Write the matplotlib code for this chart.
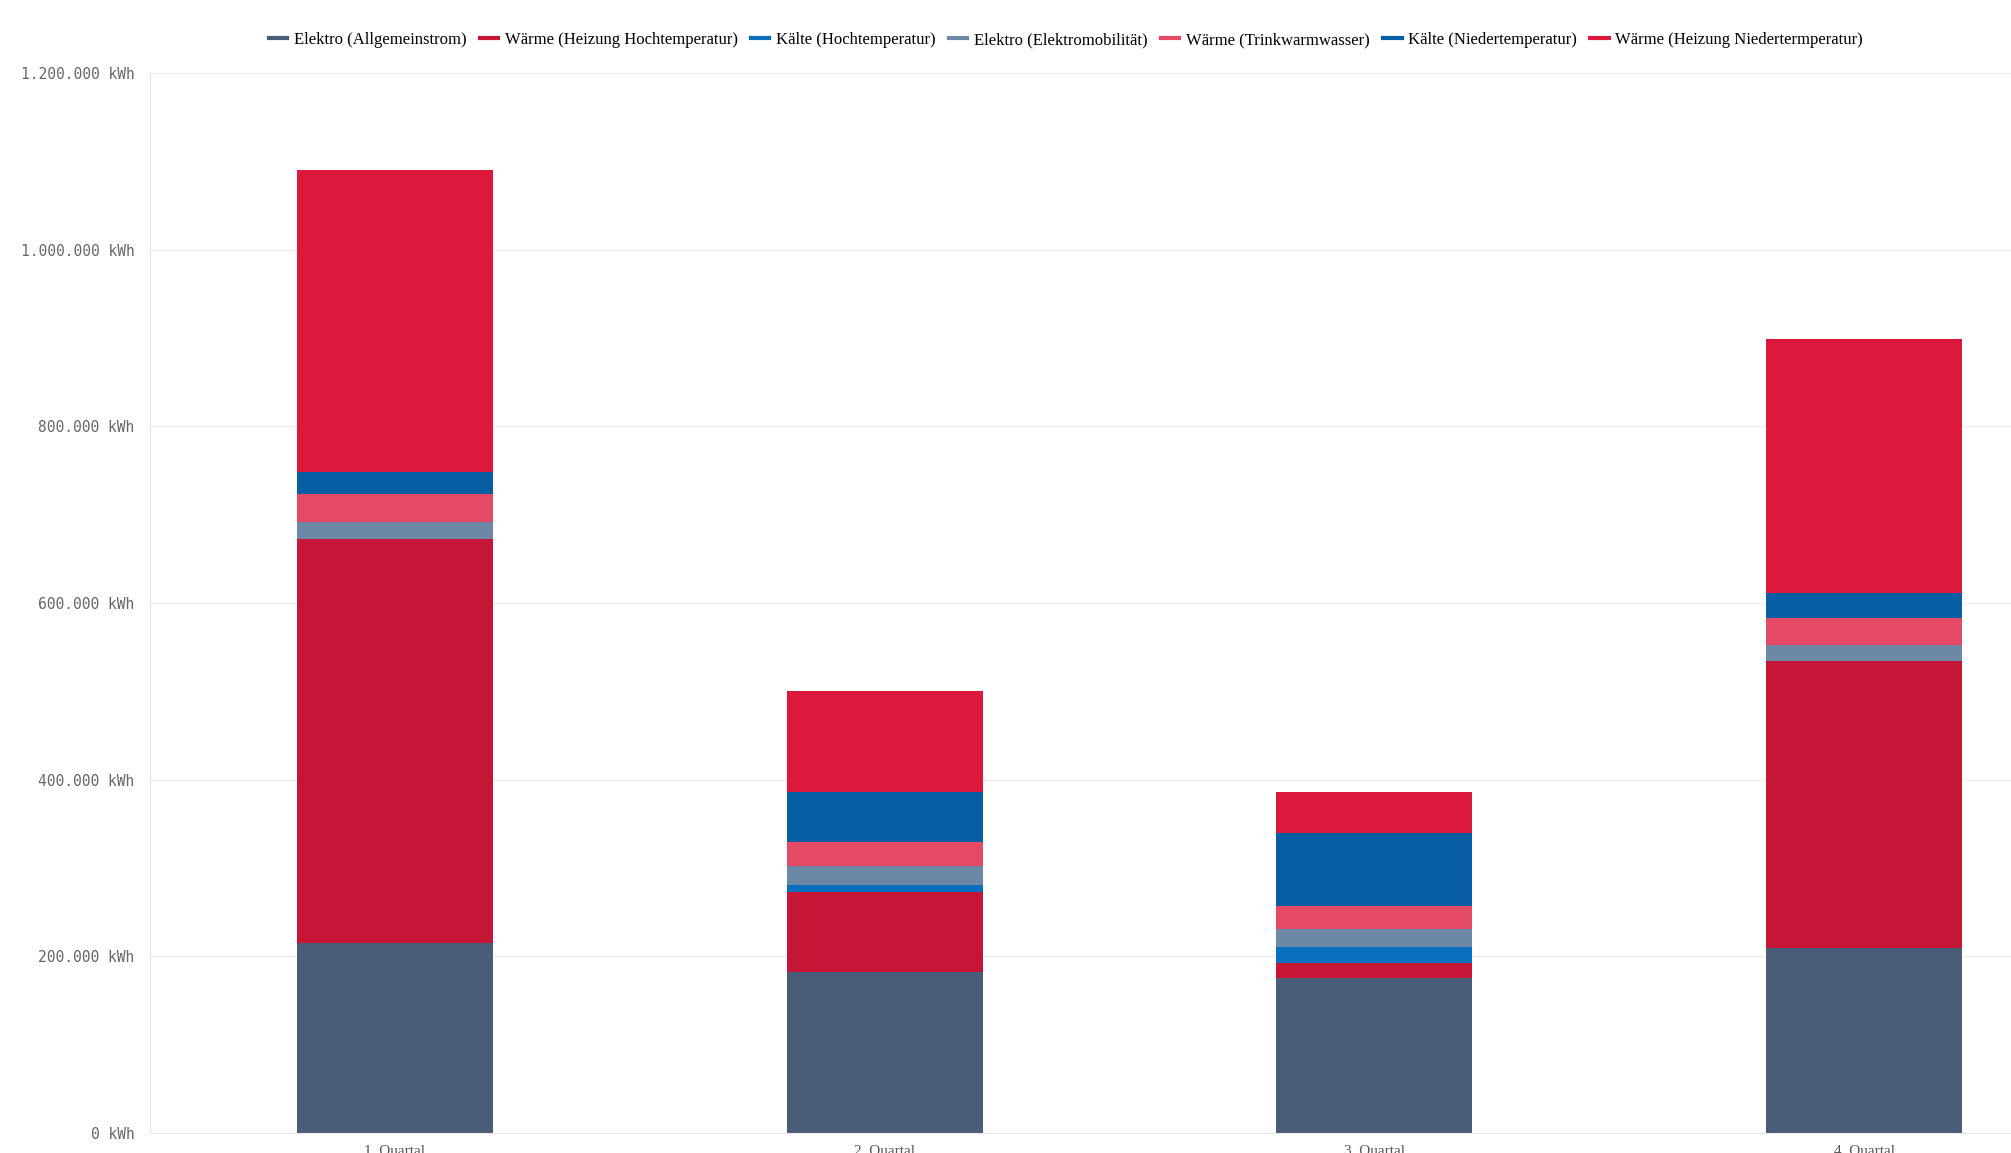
"""
Energy consumption per quarter, stacked by category
"""
import numpy as np
import matplotlib.pyplot as plt
from matplotlib.lines import Line2D
from matplotlib.ticker import FuncFormatter

quarters = ['1. Quartal', '2. Quartal', '3. Quartal', '4. Quartal']
series_names = ['Elektro (Allgemeinstrom)', 'Wärme (Heizung Hochtemperatur)',
                'Kälte (Hochtemperatur)', 'Elektro (Elektromobilität)',
                'Wärme (Trinkwarmwasser)', 'Kälte (Niedertemperatur)',
                'Wärme (Heizung Niedertermperatur)']

# values in kWh, bottom to top
elektro_allg = [215000, 182000, 175000, 210000]
waerme_hoch = [457000, 91000, 18000, 324000]
kaelte_hoch = [0, 8000, 18000, 0]
elektro_mob = [20000, 21500, 20000, 19000]
waerme_tww = [31000, 27500, 26000, 30000]
kaelte_nieder = [25000, 55600, 82600, 28600]
waerme_nieder = [342000, 115000, 47000, 287000]

colors = ['#4a5d78', '#c51635', '#0b6fbf', '#6d88a6',
          '#e44a66', '#075ea3', '#dc183d']

series = [elektro_allg, waerme_hoch, kaelte_hoch, elektro_mob,
          waerme_tww, kaelte_nieder, waerme_nieder]

fig = plt.figure(figsize=(20.11, 11.53), dpi=100)
ax = fig.add_axes([150 / 2011, 20 / 1153, 1959 / 2011, 1060 / 1153])

x = np.arange(len(quarters))
bottom = np.zeros(len(quarters))
for vals, col in zip(series, colors):
    ax.bar(x, vals, width=0.4, bottom=bottom, color=col, zorder=2)
    bottom += np.array(vals)

ax.set_xlim(-0.5, 3.5)
ax.set_ylim(0, 1200000)
ax.set_yticks(np.arange(0, 1200001, 200000))
ax.yaxis.set_major_formatter(FuncFormatter(
    lambda v, p: f'{int(v):,} kWh'.replace(',', '.')))
ax.grid(axis='y', color='#ececec', lw=1, zorder=0)

ax.set_xticks(x)
ax.set_xticklabels(quarters, family='Liberation Serif', fontsize=11,
                   color='#555555')
for lab in ax.get_yticklabels():
    lab.set_family('DejaVu Sans Mono')
    lab.set_fontsize(10.5)
    lab.set_color('#666666')
ax.tick_params(axis='y', length=0, pad=11)
ax.tick_params(axis='x', length=0, pad=8)

for side in ['top', 'right']:
    ax.spines[side].set_visible(False)
for side in ['left', 'bottom']:
    ax.spines[side].set_color('#e6e6e6')

handles = [Line2D([], [], color=c, lw=3) for c in colors]
fig.legend(handles, series_names, loc='center', ncol=7,
           bbox_to_anchor=(1066 / 2011, 1 - 40 / 1153), frameon=False,
           handlelength=1.1, handletextpad=0.4, columnspacing=0.8,
           prop={'family': 'Liberation Serif', 'size': 12})

fig.savefig('out.png', dpi=100)
